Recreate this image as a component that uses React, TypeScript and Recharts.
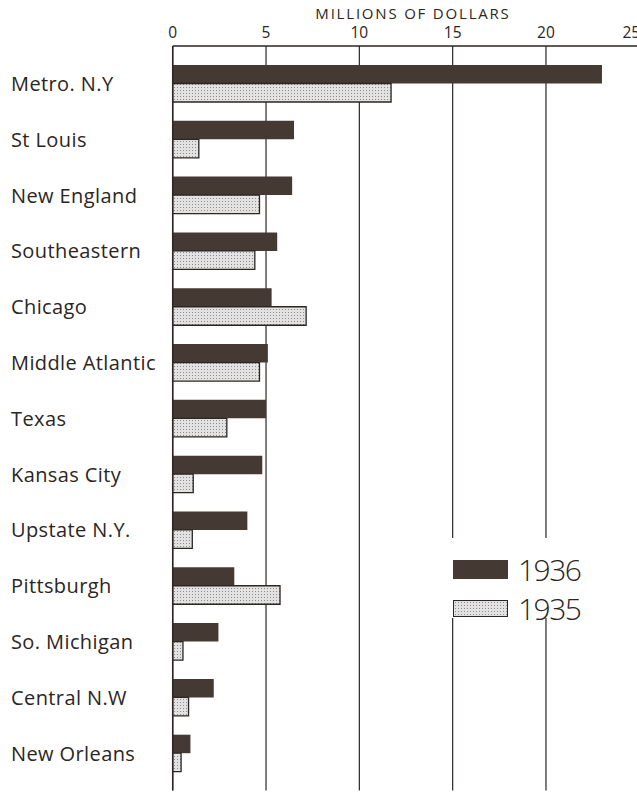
import { Bar, BarChart, CartesianGrid, Legend, XAxis, YAxis } from "recharts"

// Regions, top to bottom
const regions = [
  "Metro. N.Y",
  "St  Louis",
  "New England",
  "Southeastern",
  "Chicago",
  "Middle Atlantic",
  "Texas",
  "Kansas City",
  "Upstate  N.Y.",
  "Pittsburgh",
  "So. Michigan",
  "Central  N.W",
  "New  Orleans",
]

// millions of dollars
const values1936 = [23.0, 6.5, 6.4, 5.6, 5.3, 5.1, 5.0, 4.8, 4.0, 3.3, 2.45, 2.2, 0.95]
const values1935 = [11.7, 1.4, 4.65, 4.4, 7.15, 4.65, 2.9, 1.1, 1.05, 5.75, 0.55, 0.85, 0.45]

const xTicks = [0, 5, 10, 15, 20, 25]

const data = regions.map((name, i) => ({
  name,
  y1936: values1936[i],
  y1935: values1935[i],
}))

const ink = "#2b2623"
const dark = "#453a33"
const font = "'Open Sans', sans-serif"

function RegionTick(props: any) {
  const { y, payload } = props
  return (
    <text x={11} y={y} dy={7} textAnchor="start" fontSize={20} letterSpacing={0.4} fontFamily={font} fill={ink}>
      {payload.value}
    </text>
  )
}

// last label sits at the page edge, nudge it in a little like the print
function ValueTick(props: any) {
  const { x, y, payload } = props
  const shift = payload.value === 25 ? -8 : 0
  return (
    <text x={x + shift} y={y} dy={-2} textAnchor="middle" fontSize={15.5} fontFamily={font} fill={ink}>
      {payload.value}
    </text>
  )
}

function KeyBox() {
  const row = { position: "absolute" as const, left: 13, display: "flex", alignItems: "center" }
  return (
    <div style={{ position: "relative", width: 170, height: 80, background: "#fff" }}>
      <div style={{ ...row, top: 11 }}>
        <div style={{ width: 55, height: 19, background: dark }} />
        <span style={{ marginLeft: 10, fontSize: 30, fontFamily: font, fontWeight: 300, color: ink, letterSpacing: -1.5 }}>
          1936
        </span>
      </div>
      <div style={{ ...row, top: 50 }}>
        <div
          style={{
            width: 53,
            height: 15,
            border: `1px solid ${ink}`,
            backgroundColor: "#e2e2e2",
            backgroundImage: "radial-gradient(#8c8c8c 0.7px, transparent 0.8px)",
            backgroundSize: "3px 3px",
          }}
        />
        <span style={{ marginLeft: 10, fontSize: 30, fontFamily: font, fontWeight: 300, color: ink, letterSpacing: -1.5 }}>
          1935
        </span>
      </div>
    </div>
  )
}

export default function App() {
  return (
    <div style={{ position: "absolute", left: 0, top: 0, width: 637, height: 792, overflow: "hidden", background: "#fff" }}>
      <BarChart
        width={660}
        height={792}
        layout="vertical"
        data={data}
        margin={{ top: 0, right: 20.7, bottom: 1.5, left: 0 }}
        barGap={0}
        barSize={18.5}
      >
        <defs>
          <pattern id="dots" width="3" height="3" patternUnits="userSpaceOnUse">
            <rect width="3" height="3" fill="#e2e2e2" />
            <rect width="1" height="1" fill="#8c8c8c" />
          </pattern>
        </defs>
        <CartesianGrid horizontal={false} stroke={ink} strokeWidth={1.2} />
        <XAxis
          type="number"
          orientation="top"
          domain={[0, 25]}
          ticks={xTicks}
          height={46}
          tickLine={false}
          tickSize={0}
          tickMargin={6}
          axisLine={{ stroke: ink, strokeWidth: 1.5 }}
          tick={<ValueTick />}
          label={{
            value: "MILLIONS OF DOLLARS",
            position: "insideTop",
            offset: 8,
            dx: 7,
            fontSize: 15,
            fontFamily: font,
            fill: ink,
            letterSpacing: 1.8,
          }}
        />
        <XAxis
          xAxisId="bottom"
          type="number"
          orientation="bottom"
          domain={[0, 25]}
          height={0}
          tick={false}
          tickLine={false}
          axisLine={{ stroke: ink, strokeWidth: 1.5 }}
        />
        <YAxis
          type="category"
          dataKey="name"
          width={172.7}
          interval={0}
          tickLine={false}
          axisLine={{ stroke: ink, strokeWidth: 1.5 }}
          tick={<RegionTick />}
          padding={{ top: 10, bottom: 9 }}
        />
        <Legend
          layout="vertical"
          align="center"
          verticalAlign="middle"
          wrapperStyle={{ left: 440, top: 538, width: 170 }}
          content={() => <KeyBox />}
        />
        <Bar dataKey="y1936" name="1936" fill={dark} isAnimationActive={false} />
        <Bar dataKey="y1935" name="1935" fill="url(#dots)" stroke={ink} strokeWidth={1.3} isAnimationActive={false} />
      </BarChart>
    </div>
  )
}
